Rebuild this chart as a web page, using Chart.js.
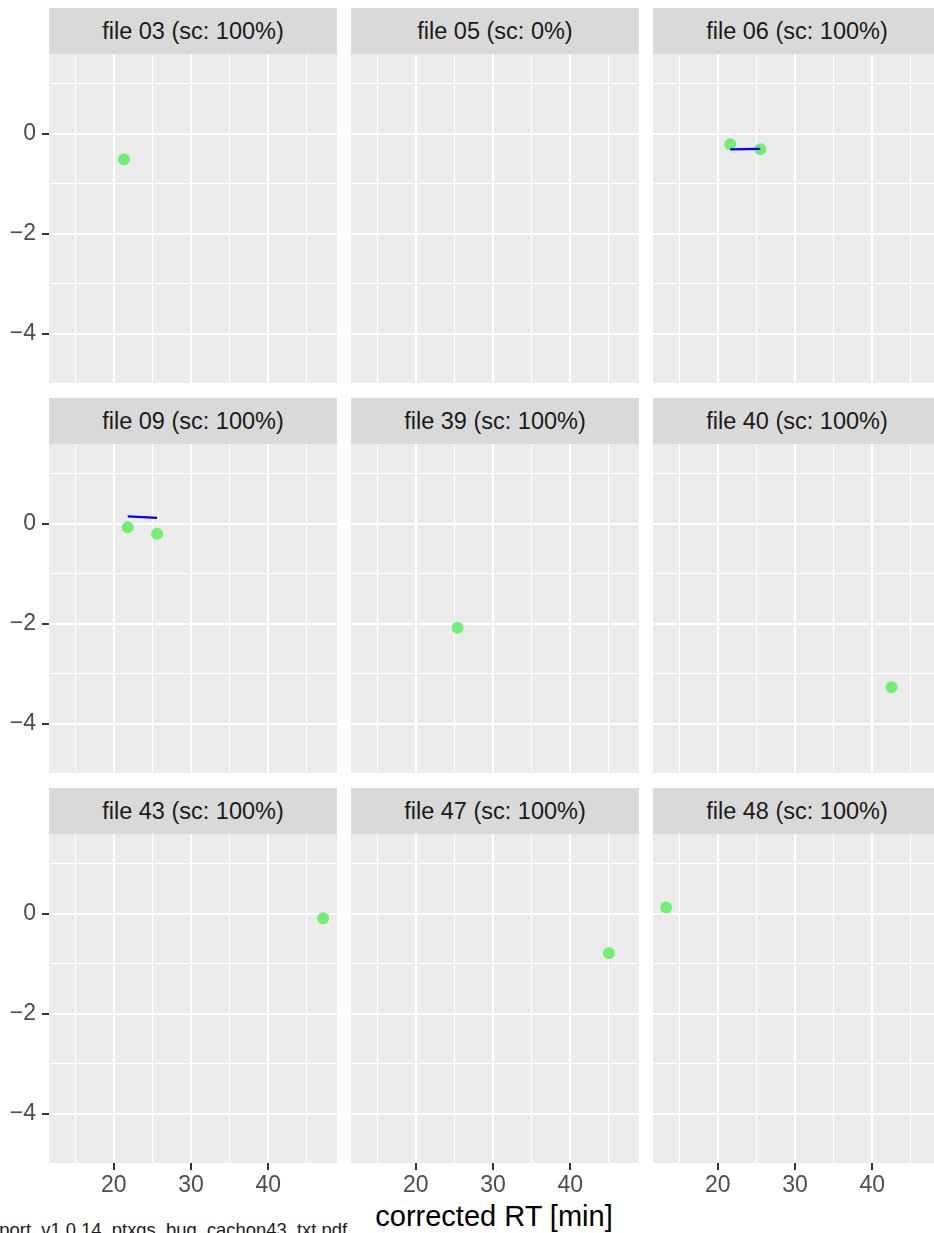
<!DOCTYPE html>
<html>
<head>
<meta charset="utf-8">
<script src="https://cdn.jsdelivr.net/npm/chart.js@4.4.1/dist/chart.umd.min.js"></script>
<style>
  body { margin: 0; background: #fff; overflow: hidden; width: 934px; height: 1233px; position: relative; }
  canvas { position: absolute; }
  .strip {
    position: absolute; width: 288px; height: 46px; line-height: 46px;
    background: #D9D9D9; color: #1A1A1A; text-align: center;
    font-family: 'Liberation Sans', Arial, sans-serif; font-size: 23.5px; white-space: nowrap;
  }
  .xtitle {
    position: absolute; left: 294px; width: 400px; top: 1202px; text-align: center;
    font-family: 'Liberation Sans', Arial, sans-serif; font-size: 29px; line-height: 1; color: #000;
  }
  .caption {
    position: absolute; right: 587px; top: 1221px; white-space: nowrap;
    font-family: 'Liberation Sans', Arial, sans-serif; font-size: 18.4px; line-height: 1; color: #1A1A1A;
  }
</style>
</head>
<body>
<div class="xtitle">corrected RT [min]</div>
<div class="caption">report_v1.0.14_ptxgs_bug_cachon43_txt.pdf</div>
<script>
// facet labels, read left to right, top to bottom
const panelLabels = [
  'file 03 (sc: 100%)', 'file 05 (sc: 0%)', 'file 06 (sc: 100%)',
  'file 09 (sc: 100%)', 'file 39 (sc: 100%)', 'file 40 (sc: 100%)',
  'file 43 (sc: 100%)', 'file 47 (sc: 100%)', 'file 48 (sc: 100%)'
];

// green points: corrected RT and shift
const pointRT = [[21.3], [], [21.6, 25.5], [21.8, 25.6], [25.4], [42.5], [47.1], [45.0], [13.3]];
const pointShift = [[-0.51], [], [-0.21, -0.31], [-0.07, -0.20], [-2.08], [-3.27], [-0.09], [-0.79], [0.13]];

// blue segments
const lineRT = [[], [], [21.6, 25.5], [21.8, 25.6], [], [], [], [], []];
const lineShift = [[], [], [-0.31, -0.30], [0.15, 0.12], [], [], [], [], []];

// axes
const xRange = [11.6, 48.9];
const yRange = [-4.99, 1.6];
const xGrid = [15, 20, 25, 30, 35, 40, 45];
const xTickLabels = [20, 30, 40];
const yGrid = [-4, -3, -2, -1, 0, 1];
const yTickLabels = [-4, -2, 0];

const colLeft = [49, 351, 653];
const rowTop = [54, 444, 834];
const panelW = 288, panelH = 329, stripH = 46;
const yAxisW = 49, xAxisH = 40;
const tickLen = 7;
const fontFamily = "'Liberation Sans', Arial, sans-serif";

const panelBg = {
  id: 'panelBg',
  beforeDraw(chart) {
    const a = chart.chartArea;
    const ctx = chart.ctx;
    ctx.save();
    ctx.fillStyle = '#EBEBEB';
    ctx.fillRect(a.left, a.top, a.right - a.left, a.bottom - a.top);
    ctx.restore();
  }
};

// ggplot style tick marks on the outer axes
const tickMarks = {
  id: 'tickMarks',
  afterDraw(chart, args, opts) {
    const a = chart.chartArea;
    const ctx = chart.ctx;
    ctx.save();
    ctx.strokeStyle = '#333333';
    ctx.lineWidth = 2;
    ctx.beginPath();
    if (opts.y) {
      yTickLabels.forEach(v => {
        const py = Math.round(chart.scales.y.getPixelForValue(v));
        ctx.moveTo(a.left - tickLen, py);
        ctx.lineTo(a.left, py);
      });
    }
    if (opts.x) {
      xTickLabels.forEach(v => {
        const px = Math.round(chart.scales.x.getPixelForValue(v));
        ctx.moveTo(px, a.bottom);
        ctx.lineTo(px, a.bottom + tickLen);
      });
    }
    ctx.stroke();
    ctx.restore();
  }
};

function fmt(v) {
  return v < 0 ? '\u2212' + Math.abs(v) : String(v);
}

function noPad(s) {
  s.paddingTop = 0;
  s.paddingBottom = 0;
  s.paddingLeft = 0;
  s.paddingRight = 0;
}

panelLabels.forEach((label, i) => {
  const col = i % 3, row = Math.floor(i / 3);
  const showY = col === 0, showX = row === 2;

  const strip = document.createElement('div');
  strip.className = 'strip';
  strip.style.left = colLeft[col] + 'px';
  strip.style.top = (rowTop[row] - stripH) + 'px';
  strip.textContent = label;
  document.body.appendChild(strip);

  const canvas = document.createElement('canvas');
  const w = panelW + (showY ? yAxisW : 0);
  const h = panelH + (showX ? xAxisH : 0);
  canvas.width = w;
  canvas.height = h;
  canvas.style.width = w + 'px';
  canvas.style.height = h + 'px';
  canvas.style.left = (colLeft[col] - (showY ? yAxisW : 0)) + 'px';
  canvas.style.top = rowTop[row] + 'px';
  document.body.appendChild(canvas);

  const points = pointRT[i].map((x, k) => ({ x: x, y: pointShift[i][k] }));
  const segment = lineRT[i].map((x, k) => ({ x: x, y: lineShift[i][k] }));

  new Chart(canvas.getContext('2d'), {
    type: 'scatter',
    data: {
      datasets: [
        {
          type: 'line',
          data: segment,
          showLine: true,
          borderColor: '#0000FF',
          borderWidth: 2.4,
          pointRadius: 0,
          fill: false,
          order: 0
        },
        {
          data: points,
          backgroundColor: '#72EE72',
          borderWidth: 0,
          pointRadius: 6,
          order: 1
        }
      ]
    },
    options: {
      responsive: false,
      animation: false,
      devicePixelRatio: 1,
      events: [],
      layout: { padding: 0, autoPadding: false },
      plugins: {
        legend: { display: false },
        tooltip: { enabled: false },
        tickMarks: { x: showX, y: showY }
      },
      scales: {
        x: {
          type: 'linear',
          min: xRange[0],
          max: xRange[1],
          afterBuildTicks: s => { s.ticks = xGrid.map(v => ({ value: v })); },
          afterFit: s => { s.height = showX ? xAxisH : 0; noPad(s); },
          border: { display: false },
          grid: {
            color: '#FFFFFF',
            lineWidth: c => (c.tick && xTickLabels.includes(c.tick.value)) ? 2 : 1,
            drawTicks: false
          },
          ticks: {
            display: showX,
            autoSkip: false,
            maxRotation: 0,
            padding: tickLen + 2,
            color: '#4D4D4D',
            font: { family: fontFamily, size: 23 },
            callback: v => xTickLabels.includes(v) ? fmt(v) : ''
          }
        },
        y: {
          type: 'linear',
          min: yRange[0],
          max: yRange[1],
          afterBuildTicks: s => { s.ticks = yGrid.map(v => ({ value: v })); },
          afterFit: s => { s.width = showY ? yAxisW : 0; noPad(s); },
          border: { display: false },
          grid: {
            color: '#FFFFFF',
            lineWidth: c => (c.tick && yTickLabels.includes(c.tick.value)) ? 2 : 1,
            drawTicks: false
          },
          ticks: {
            display: showY,
            autoSkip: false,
            padding: tickLen + 6,
            color: '#4D4D4D',
            font: { family: fontFamily, size: 23 },
            callback: v => yTickLabels.includes(v) ? fmt(v) : ''
          }
        }
      }
    },
    plugins: [panelBg, tickMarks]
  });
});
</script>
</body>
</html>
